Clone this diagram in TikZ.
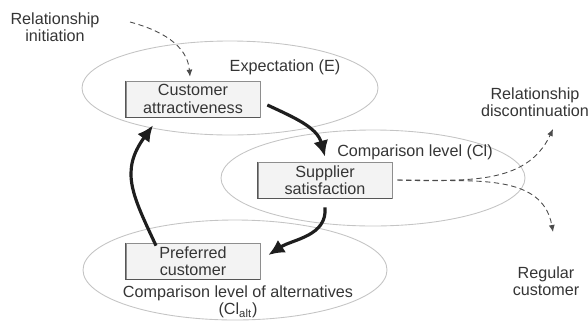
\documentclass[tikz,border=0pt]{standalone}
\usepackage{fontspec}
\setmainfont{Liberation Sans}
\usetikzlibrary{positioning,arrows.meta,shapes.geometric}
\definecolor{ink}{HTML}{1E1E1E}
\definecolor{rim}{HTML}{C4C4C4}
\definecolor{card}{HTML}{F3F3F3}

\begin{document}
\begin{tikzpicture}[
  every node/.style={font=\fontsize{9.2}{9.8}\selectfont,text=ink!90},
  level/.style={ellipse,draw=rim,line width=0.5pt,inner sep=0pt},
  stage/.style={draw=ink!50,fill=card,align=center,minimum width=26.8mm,minimum height=7.2mm,inner sep=1pt},
  edge/.style={ink!75,line width=0.9pt},
  flow/.style={-{Latex[length=3.2mm,width=3mm]},line width=1.8pt,ink},
  hint/.style={-{Latex[length=1.4mm,width=1.2mm]},densely dashed,line width=0.5pt,ink!80}]
  \useasboundingbox (0,0) rectangle (11.76,6.4);
  % the three levels
  \node[level,minimum width=59.2mm,minimum height=18.8mm] (expect) at (4.6,4.64) {};
  \node[level,minimum width=60.8mm,minimum height=19.2mm] (cl) at (7.46,2.84) {};
  \node[level,minimum width=60.8mm,minimum height=20mm] (alt) at (4.7,1.0) {};
  \node (expectlbl) at (5.7,5.06) {Expectation (E)};
  \node (cllbl) at (8.3,3.36) {Comparison level (Cl)};
  \node[align=center] (altlbl) at (4.76,0.36) {Comparison level of alternatives\\(Cl\textsubscript{alt})};
  % stages of the cycle
  \node[stage] (attr) at (3.86,4.42) {Customer\\attractiveness};
  \node[stage] (supp) at (6.5,2.8) {Supplier\\satisfaction};
  \node[stage] (pref) at (3.86,1.18) {Preferred\\customer};
  \foreach \b in {attr,supp,pref}
    \draw[edge] (\b.north west) -- (\b.south west) -- (\b.south east);
  % outside states
  \node[align=center] (init) at (1.1,5.86) {Relationship\\initiation};
  \node[align=center] (quit) at (10.7,4.36) {Relationship\\discontinuation};
  \node[align=center] (stay) at (10.92,0.78) {Regular\\customer};
  \coordinate (initfrom) at (2.6,5.96);
  \coordinate (quitto) at (11.06,3.82);
  \coordinate (stayto) at (11.06,1.76);
  % cycle
  \draw[flow] ([xshift=1.4mm,yshift=-1.2mm]attr.east) to[out=-25,in=105] ([yshift=1mm]supp.north);
  \draw[flow] ([yshift=-1.8mm]supp.south) to[out=-85,in=33] ([xshift=1.6mm,yshift=1.2mm]pref.east);
  \draw[flow] ([xshift=-7.4mm,yshift=-0.6mm]pref.north) to[out=115,in=-126,looseness=1.2] ([xshift=-8mm,yshift=-1.6mm]attr.south);
  % entry and exits
  \draw[hint] (initfrom) to[out=-15,in=95] ([xshift=-0.6mm,yshift=0.8mm]attr.north);
  \draw[hint] ([xshift=1mm]supp.east) to[out=0,in=-115] (quitto);
  \draw[hint] ([xshift=1mm]supp.east) to[out=-3,in=100] (stayto);
\end{tikzpicture}
\end{document}
